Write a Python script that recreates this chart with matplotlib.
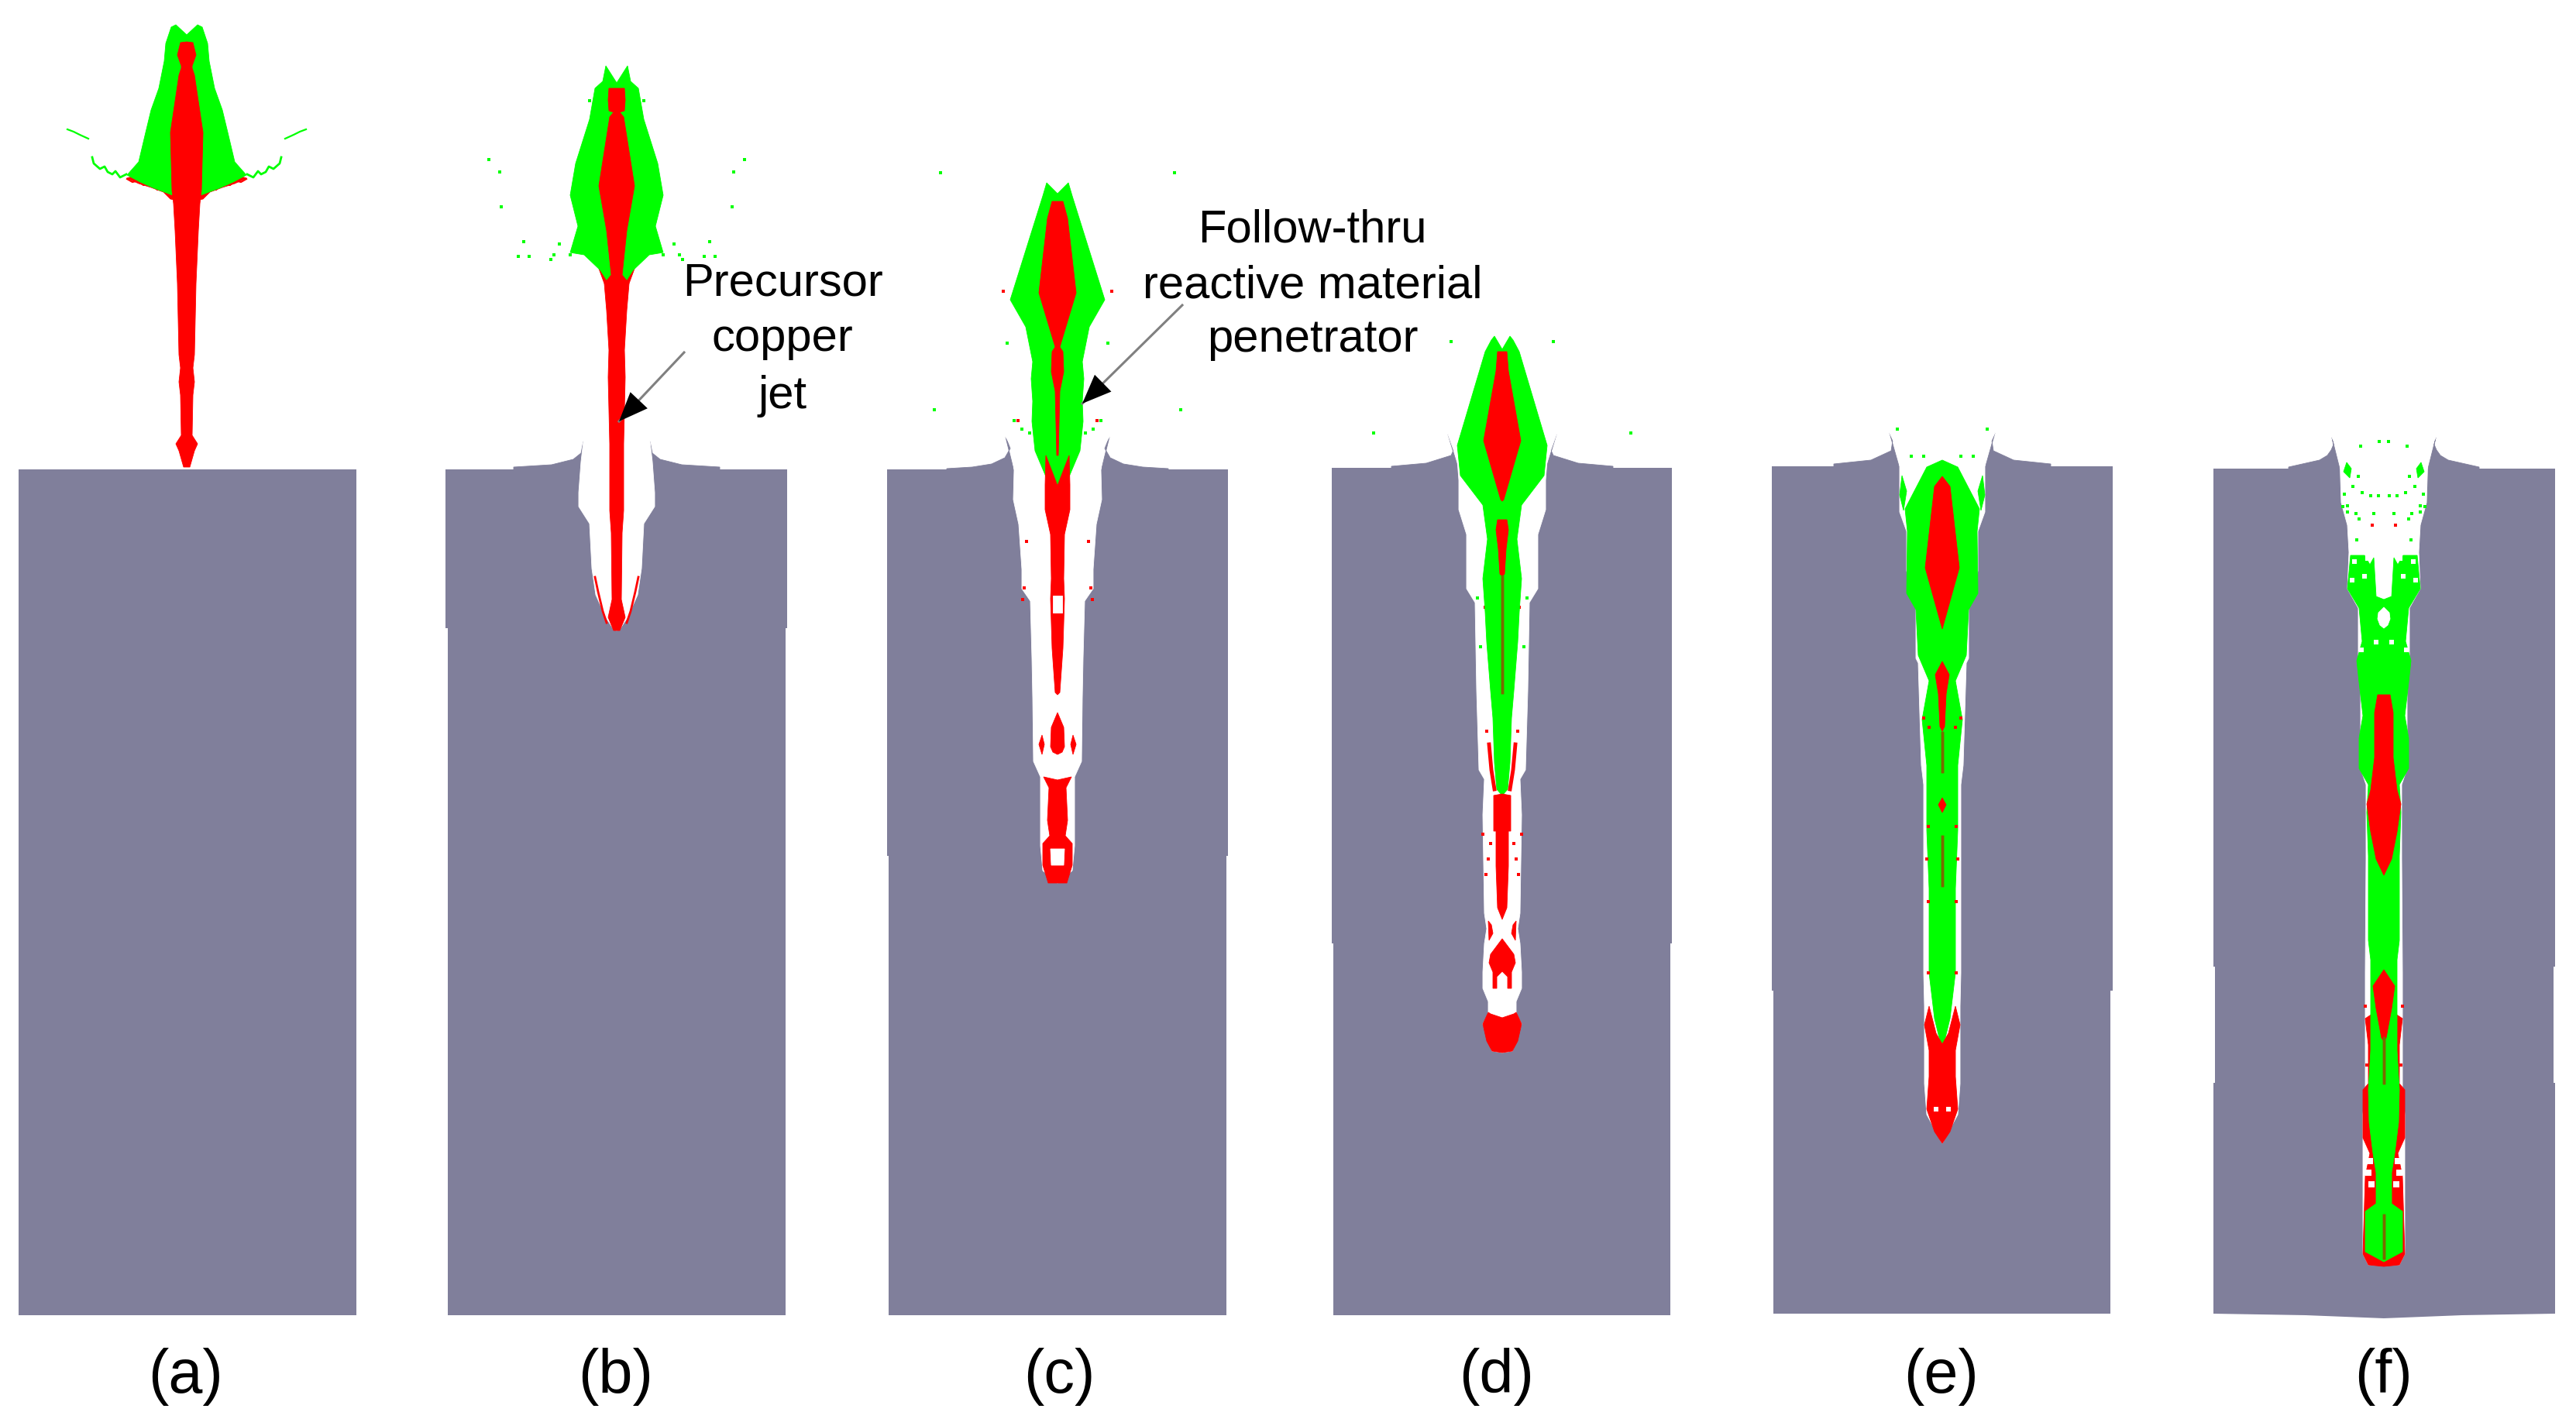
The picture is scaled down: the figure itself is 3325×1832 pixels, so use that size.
import matplotlib
matplotlib.use('Agg')
import matplotlib.pyplot as plt

plt.rcParams['font.family'] = ['Liberation Sans', 'DejaVu Sans']

GRAY = '#807F9B'
GREEN = '#00FF00'
RED = '#FF0000'
DARK = '#7A6A00'
WHITE = '#FFFFFF'
TEXT = '#000000'

# panel labels and centre lines
panel_labels = ['(a)', '(b)', '(c)', '(d)', '(e)', '(f)']
label_x = [240, 795, 1367, 1932, 2505, 3077]
centre_x = [241, 796, 1365, 1939, 2507, 3077]

# target block outlines, image pixels
a_block_x = [24, 460, 460, 24]
a_block_y = [607, 607, 1699, 1699]
b_block_x = [575, 1016, 1016, 1014, 1014, 578, 578, 575]
b_block_y = [607, 607, 812, 812, 1699, 1699, 812, 812]
c_block_x = [1145, 1585, 1585, 1583, 1583, 1147, 1147, 1145]
c_block_y = [607, 607, 1106, 1106, 1699, 1699, 1106, 1106]
d_block_x = [1719, 2158, 2158, 2156, 2156, 1721, 1721, 1719]
d_block_y = [605, 605, 1219, 1219, 1699, 1699, 1219, 1219]
e_block_x = [2287, 2727, 2727, 2724, 2724, 2289, 2289, 2287]
e_block_y = [603, 603, 1280, 1280, 1697, 1697, 1280, 1280]
f_block_x = [2857, 3298, 3298, 3296, 3296, 3298, 3298, 3178, 3077, 2976, 2857, 2857, 2859, 2859, 2857]
f_block_y = [606, 606, 1249, 1249, 1399, 1399, 1697, 1699, 1703, 1699, 1697, 1399, 1399, 1249, 1249]

# crater lips (half outlines, offset from centre, y)
b_lip = [(43, 571), (46, 586), (56, 594), (84, 601), (133, 604), (133, 610), (43, 610)]
c_lip = [(67, 565), (61, 580), (68, 592), (85, 600), (110, 604), (143, 606), (143, 610), (56, 610)]
d_lip = [(70, 562), (60, 576), (66, 589), (98, 599), (143, 603), (143, 608), (56, 608)]
e_lip = [(68, 560), (64, 570), (66, 583), (92, 595), (140, 600), (140, 606), (55, 606)]
f_lip = [(67, 566), (65, 575), (68, 582), (73, 589), (83, 595), (123, 604), (123, 610), (56, 610)]

# cavities
b_cavity = [(0, 571), (43, 571), (46, 597), (49, 637), (49, 655), (35, 677), (32, 735), (27, 769), (14, 798), (5, 812), (0, 815)]
c_cavity = [(0, 565), (67, 565), (60, 576), (56, 608), (57, 646), (50, 678), (46, 736), (46, 761), (35, 777), (33, 851), (32, 902), (31, 984), (22, 1004), (22, 1093), (19, 1125), (0, 1141)]
d_cavity = [(0, 562), (70, 562), (58, 595), (56, 621), (56, 659), (46, 691), (46, 761), (35, 779), (33, 893), (30, 995), (23, 1007), (25, 1053), (23, 1180), (20, 1200), (23, 1219), (25, 1256), (25, 1277), (18, 1294), (18, 1310), (25, 1323), (13, 1358), (0, 1360)]
e_cavity = [(0, 560), (68, 560), (55, 587), (55, 662), (46, 687), (46, 738), (34, 780), (34, 851), (31, 857), (27, 989), (24, 1014), (24, 1257), (23, 1300), (23, 1400), (20, 1440), (0, 1477)]
f_cavity = [(0, 566), (67, 566), (57, 586), (56, 618), (55, 650), (47, 679), (45, 714), (47, 761), (33, 786), (33, 854), (30, 889), (30, 993), (23, 1014), (23, 1110), (24, 1257), (24, 1408), (27, 1440), (27, 1620), (20, 1634), (0, 1634)]

# copper jet and green penetrator shapes
a_green = [(0, 46), (14, 33), (20, 36), (27, 57), (29, 80), (36, 115), (46, 143), (53, 172), (62, 210), (77, 227), (60, 236), (42, 244), (18, 253), (0, 256)]
a_red_wing = [(0, 240), (62, 226), (77, 231), (62, 238), (46, 243), (30, 249), (21, 258), (0, 262)]
a_red = [(0, 55), (8, 56), (12, 72), (7, 86), (7, 89), (10, 98), (21, 172), (19, 247), (17, 264), (15, 299), (12, 367), (10, 459), (8, 476), (10, 494), (8, 511), (7, 563), (14, 574), (10, 583), (4, 604), (0, 604)]
a_fringe_green = [(122, 204), (120, 212), (112, 219), (106, 216), (102, 223), (96, 226), (92, 222), (86, 230), (78, 226)]
a_fringe_far = [(154, 168), (146, 171), (138, 175), (127, 180)]
a_fringe_red = [(77, 232), (70, 236), (62, 234), (56, 240), (46, 238), (38, 246), (30, 244), (22, 252), (14, 248)]

b_green = [(0, 108), (14, 86), (18, 106), (28, 115), (35, 155), (53, 212), (60, 253), (50, 293), (60, 327), (42, 330), (21, 350), (10, 367), (0, 367)]
b_red_wing = [(0, 320), (38, 325), (24, 345), (16, 367), (0, 367)]
b_red = [(0, 115), (10, 115), (11, 130), (10, 144), (4, 146), (9, 152), (23, 241), (13, 299), (7, 356), (16, 367), (13, 402), (10, 453), (11, 488), (9, 574), (9, 660), (7, 689), (6, 775), (11, 798), (4, 815), (0, 815)]
b_fringe_red = [(28, 746), (24, 765), (18, 790), (13, 805)]
b_dots_green = [(165, 207), (151, 223), (149, 268), (35, 131), (120, 313), (127, 332), (113, 332), (74, 316), (60, 330), (81, 330), (85, 336)]

c_green = [(0, 251), (14, 237), (19, 254), (61, 388), (41, 423), (32, 468), (34, 490), (32, 519), (33, 545), (29, 583), (13, 621), (0, 634)]
c_red_1 = [(0, 261), (7, 261), (13, 283), (24, 379), (3, 449), (7, 455), (8, 481), (3, 506), (1, 589), (0, 589)]
c_red_2 = [(0, 628), (15, 589), (16, 627), (16, 659), (9, 691), (8, 748), (9, 774), (7, 838), (3, 895), (0, 898)]
c_red_3 = [(0, 921), (8, 940), (9, 965), (6, 972), (0, 975)]
c_red_4 = [(0, 1008), (18, 1004), (11, 1018), (13, 1060), (10, 1080), (19, 1090), (19, 1118), (12, 1141), (0, 1141)]
c_side = [(20, 950), (24, 962), (20, 975), (17, 962)]
c_holes = [(0, 1097), (9, 1097), (8, 1118), (0, 1118)]
c_hole_mid = [(0, 770), (6, 770), (6, 792), (0, 792)]
c_dots_green = [(151, 224), (65, 444), (159, 530), (56, 544), (46, 555), (36, 560), (30, 542)]
c_dots_red = [(70, 377), (51, 544), (40, 700), (43, 760), (45, 775)]

d_green = [(0, 452), (10, 435), (14, 440), (22, 455), (58, 576), (54, 615), (25, 653), (19, 697), (25, 748), (22, 791), (20, 830), (15, 893), (12, 928), (10, 986), (7, 1020), (0, 1028)]
d_red_1 = [(0, 455), (6, 455), (8, 480), (24, 570), (2, 646), (0, 648)]
d_red_2 = [(0, 672), (6, 672), (8, 685), (5, 710), (3, 742), (0, 745)]
d_dark = [(0, 745), (0, 895)]
d_red_3 = [(0, 1026), (11, 1028), (11, 1074), (8, 1074), (8, 1119), (6, 1173), (0, 1188)]
d_star = [(0, 1213), (15, 1233), (17, 1244), (12, 1256), (12, 1277), (7, 1277), (7, 1262), (0, 1255)]
d_side = [(18, 1190), (17, 1215), (12, 1206), (14, 1195)]
d_strip = [(17, 962), (14, 995), (10, 1020)]
d_tip = [(0, 1315), (15, 1310), (18, 1308), (25, 1323), (20, 1345), (13, 1358), (0, 1360)]
d_hole = [(0, 1285), (8, 1285), (8, 1322), (0, 1325)]
d_dots_green = [(166, 560), (66, 442), (32, 773), (28, 836)]
d_dots_red = [(22, 785), (18, 820), (20, 945), (25, 1078), (15, 1090), (18, 1110), (21, 1130)]

e_green = [(0, 595), (20, 604), (48, 658), (45, 687), (46, 767), (34, 788), (31, 847), (17, 880), (26, 930), (20, 989), (20, 1022), (20, 1073), (17, 1148), (17, 1257), (10, 1316), (0, 1357)]
e_red_1 = [(0, 616), (10, 629), (22, 734), (0, 813)]
e_red_2 = [(0, 855), (9, 872), (5, 897), (3, 939), (0, 945)]
e_red_3 = [(0, 1031), (5, 1040), (0, 1050)]
e_dark_1 = [(0, 947), (0, 997)]
e_dark_2 = [(0, 1081), (0, 1144)]
e_red_4 = [(0, 1349), (8, 1335), (17, 1300), (23, 1324), (17, 1357), (17, 1391), (20, 1433), (10, 1462), (0, 1477)]
e_patch = [(52, 615), (55, 640), (50, 660), (46, 635)]
e_dots_red = [(18, 1068), (20, 1110), (18, 1165), (18, 1257), (24, 928), (17, 940)]
e_dots_green = [(58, 555), (40, 590), (24, 590)]
e_white_spots = [(8, 1433)]

f_green = [(0, 775), (10, 771), (13, 721), (18, 730), (25, 718), (43, 718), (47, 761), (32, 786), (28, 829), (35, 854), (32, 882), (27, 925), (32, 954), (32, 993), (20, 1014), (22, 1050), (20, 1106), (20, 1156), (20, 1215), (17, 1240), (17, 1357), (20, 1408), (19, 1450), (14, 1490), (10, 1515), (10, 1555), (24, 1565), (24, 1617), (0, 1630)]
f_red_under = [(0, 1300), (24, 1316), (20, 1350), (20, 1400), (27, 1408), (27, 1470), (18, 1490), (24, 1520), (27, 1620), (20, 1634), (0, 1636)]
f_red_1 = [(0, 898), (8, 898), (12, 921), (12, 979), (17, 1021), (22, 1039), (17, 1075), (10, 1110), (0, 1131)]
f_red_2 = [(0, 1253), (14, 1274), (10, 1303), (3, 1341), (0, 1345)]
f_dark_1 = [(0, 1341), (0, 1399)]
f_dark_2 = [(0, 1570), (0, 1625)]
f_hole = [(0, 785), (7, 792), (8, 800), (5, 808), (0, 812)]
f_slits = [(21, 722), (25, 745), (38, 726), (41, 750), (29, 840), (10, 830)]
f_white_spots = [(18, 1500), (20, 1515), (16, 1530)]
f_patch = [(48, 598), (52, 610), (44, 618), (42, 606)]
f_dots_green = [(6, 571), (30, 577), (33, 616), (40, 629), (28, 637), (17, 641), (7, 641), (51, 639), (47, 654), (53, 655), (36, 664), (47, 662), (13, 664), (32, 671), (35, 698)]
f_dots_red = [(15, 679), (24, 1300), (22, 1376)]

# annotations
precursor_lines = ['Precursor', 'copper', 'jet']
precursor_base = [381, 453, 527]
follow_lines = ['Follow-thru', 'reactive material', 'penetrator']
follow_base = [312, 384, 454]

fig = plt.figure(figsize=(33.25, 18.33), dpi=100)
ax = fig.add_axes([0, 0, 1, 1])
ax.set_xlim(0, 3325)
ax.set_ylim(1833, 0)
ax.axis('off')


def sym(cx, pts, color, z):
    # fill a half outline mirrored about the centre line
    right = [(cx + p[0], p[1]) for p in pts]
    left = [(cx - p[0], p[1]) for p in reversed(pts)]
    xy = right + left
    ax.fill([p[0] for p in xy], [p[1] for p in xy], color=color, lw=0.6, zorder=z)


def both(cx, pts, color, z):
    # same shape on each side, not joined over the centre
    for s in (1, -1):
        ax.fill([cx + s * p[0] for p in pts], [p[1] for p in pts], color=color, lw=0.6, zorder=z)


def trail(cx, pts, color, z, lw=2.0):
    for s in (1, -1):
        ax.plot([cx + s * p[0] for p in pts], [p[1] for p in pts], color=color, lw=lw, zorder=z)


def dots(cx, pts, color, z, size=7):
    for s in (1, -1):
        ax.scatter([cx + s * p[0] for p in pts], [p[1] for p in pts], s=size, c=color, marker='s', lw=0, zorder=z)


# blocks
blocks = [(a_block_x, a_block_y), (b_block_x, b_block_y), (c_block_x, c_block_y),
          (d_block_x, d_block_y), (e_block_x, e_block_y), (f_block_x, f_block_y)]
for bx, by in blocks:
    ax.fill(bx, by, color=GRAY, lw=0, zorder=1)

# crater lips then cavities
for cx, lip, cavity in zip(centre_x[1:], [b_lip, c_lip, d_lip, e_lip, f_lip],
                           [b_cavity, c_cavity, d_cavity, e_cavity, f_cavity]):
    both(cx, lip, GRAY, 2)
    sym(cx, cavity, WHITE, 3)

# (a)
cx = centre_x[0]
sym(cx, a_red_wing, RED, 4)
sym(cx, a_green, GREEN, 5)
sym(cx, a_red, RED, 6)
trail(cx, a_fringe_green, GREEN, 4)
trail(cx, a_fringe_far, GREEN, 4, lw=1.6)
trail(cx, a_fringe_red, RED, 4, lw=1.6)

# (b)
cx = centre_x[1]
sym(cx, b_red_wing, RED, 4)
sym(cx, b_green, GREEN, 5)
sym(cx, b_red, RED, 6)
trail(cx, b_fringe_red, RED, 4)
dots(cx, b_dots_green, GREEN, 4)

# (c)
cx = centre_x[2]
sym(cx, c_green, GREEN, 5)
for part in [c_red_1, c_red_2, c_red_3, c_red_4]:
    sym(cx, part, RED, 6)
both(cx, c_side, RED, 6)
sym(cx, c_holes, WHITE, 7)
sym(cx, c_hole_mid, WHITE, 7)
dots(cx, c_dots_green, GREEN, 4)
dots(cx, c_dots_red, RED, 4, size=5)

# (d)
cx = centre_x[3]
sym(cx, d_green, GREEN, 5)
for part in [d_red_1, d_red_2, d_red_3, d_star, d_tip]:
    sym(cx, part, RED, 6)
both(cx, d_side, RED, 6)
trail(cx, d_strip, RED, 6, lw=3.5)
sym(cx, d_hole, WHITE, 5.5)
trail(cx, d_dark, DARK, 7, lw=2.5)
dots(cx, d_dots_green, GREEN, 4)
dots(cx, d_dots_red, RED, 4, size=6)

# (e)
cx = centre_x[4]
sym(cx, e_green, GREEN, 5)
for part in [e_red_1, e_red_2, e_red_3, e_red_4]:
    sym(cx, part, RED, 6)
both(cx, e_patch, GREEN, 5)
trail(cx, e_dark_1, DARK, 7, lw=2.5)
trail(cx, e_dark_2, DARK, 7, lw=2.5)
dots(cx, e_dots_red, RED, 6, size=8)
dots(cx, e_dots_green, GREEN, 4)
dots(cx, e_white_spots, WHITE, 7, size=20)

# (f)
cx = centre_x[5]
sym(cx, f_red_under, RED, 4)
sym(cx, f_green, GREEN, 5)
sym(cx, f_red_1, RED, 6)
sym(cx, f_red_2, RED, 6)
sym(cx, f_hole, WHITE, 7)
both(cx, f_patch, GREEN, 5)
trail(cx, f_dark_1, DARK, 7, lw=2.5)
trail(cx, f_dark_2, DARK, 7, lw=2.5)
dots(cx, f_dots_green, GREEN, 4, size=12)
dots(cx, f_dots_red, RED, 4)
dots(cx, f_slits, WHITE, 7, size=14)
dots(cx, f_white_spots, WHITE, 7, size=30)

# arrows: thin gray shaft with a black head
arrow_tails = [(883, 456), (1526, 395)]
arrow_tips = [(799, 545), (1397, 522)]
for tail, tip in zip(arrow_tails, arrow_tips):
    ax.plot([tail[0], tip[0]], [tail[1], tip[1]], color='#808080', lw=2.2, zorder=8)
    ax.annotate('', xy=tip, xytext=tail, zorder=9,
                arrowprops=dict(arrowstyle='-|>,head_length=27,head_width=11', mutation_scale=1,
                                color='black', lw=0, shrinkA=0, shrinkB=0))

# text
for line, y in zip(precursor_lines, precursor_base):
    ax.text(1010, y, line, fontsize=43, color=TEXT, ha='center', va='baseline', zorder=10)
for line, y in zip(follow_lines, follow_base):
    ax.text(1694, y, line, fontsize=43, color=TEXT, ha='center', va='baseline', zorder=10)
for x, lab in zip(label_x, panel_labels):
    ax.text(x, 1798, lab, fontsize=57, color=TEXT, ha='center', va='baseline', zorder=10)

fig.savefig('out.png', dpi=100, facecolor='white')
